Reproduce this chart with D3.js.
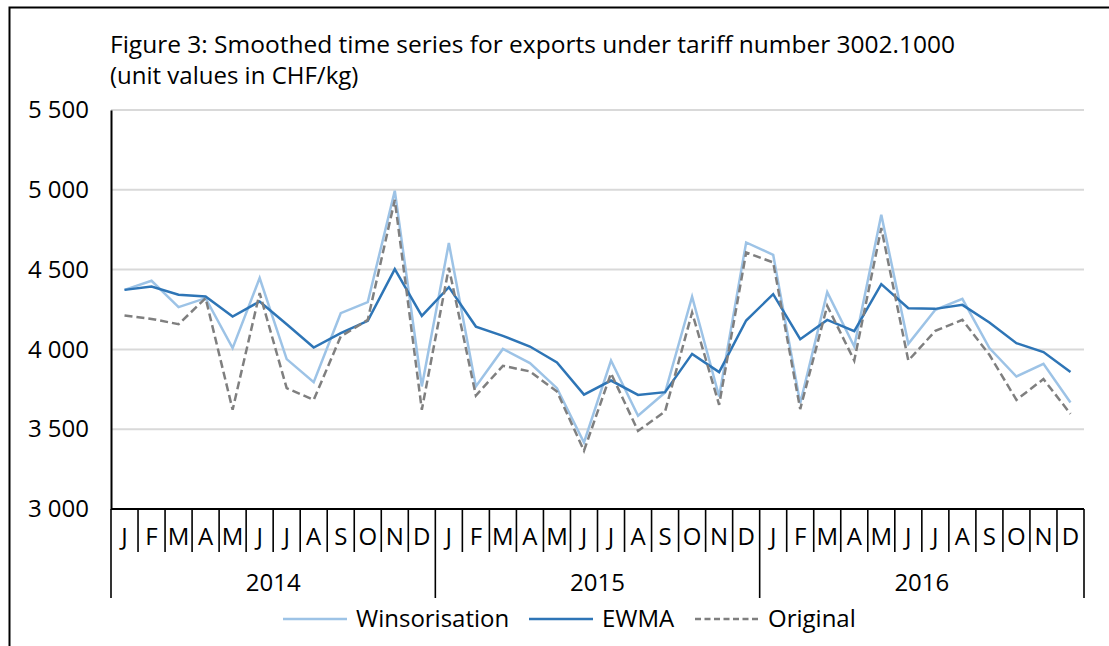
<!DOCTYPE html>
<html>
<head>
<meta charset="utf-8">
<script src="https://cdn.jsdelivr.net/npm/d3@7"></script>
<style>
  body { margin: 0; background: #fff; }
  svg text { font-family: "Open Sans", "Noto Sans", sans-serif; fill: #000; }
</style>
</head>
<body>
<div id="chart"></div>
<script>
var years = ['2014', '2015', '2016'];
var monthLetters = ['J', 'F', 'M', 'A', 'M', 'J', 'J', 'A', 'S', 'O', 'N', 'D'];
var yTicks = [3000, 3500, 4000, 4500, 5000, 5500];

var winsorisation = [4373, 4430, 4265, 4321, 4008, 4447, 3939, 3795, 4227, 4296, 4994, 3768,
                     4666, 3768, 4003, 3914, 3757, 3417, 3930, 3584, 3730, 4331, 3705, 4670,
                     4593, 3663, 4359, 4018, 4843, 4035, 4248, 4317, 4008, 3830, 3910, 3667];
var ewma = [4373, 4394, 4342, 4331, 4206, 4300, 4158, 4012, 4102, 4179, 4503, 4210,
            4390, 4143, 4085, 4018, 3918, 3717, 3805, 3715, 3732, 3972, 3858, 4181,
            4346, 4064, 4185, 4114, 4409, 4258, 4254, 4279, 4169, 4039, 3983, 3858];
var original = [4212, 4191, 4158, 4321, 3622, 4353, 3757, 3684, 4081, 4185, 4937, 3622,
                4512, 3711, 3897, 3862, 3736, 3365, 3850, 3489, 3611, 4231, 3653, 4607,
                4545, 3626, 4273, 3930, 4760, 3930, 4116, 4185, 3966, 3684, 3814, 3596];

var seriesInfo = [
  { name: 'Winsorisation', values: winsorisation, colour: '#9dc3e6', dash: null },
  { name: 'EWMA', values: ewma, colour: '#2e75b6', dash: null },
  { name: 'Original', values: original, colour: '#7f7f7f', dash: '8,4' }
];

var width = 1109, height = 646;
var plotLeft = 111, plotRight = 1084, plotTop = 110, plotBottom = 509;
var fontSize = 24;

var svg = d3.select('#chart').append('svg')
  .attr('width', width)
  .attr('height', height);

// outer frame (top and left edges)
svg.append('path')
  .attr('d', 'M9.5,' + height + 'V7.5H' + width)
  .attr('fill', 'none')
  .attr('stroke', '#000')
  .attr('stroke-width', 2);

svg.append('text')
  .attr('x', 110).attr('y', 53)
  .attr('font-size', 24.5)
  .attr('font-weight', 500)
  .text('Figure 3: Smoothed time series for exports under tariff number 3002.1000');

svg.append('text')
  .attr('x', 110).attr('y', 84)
  .attr('font-size', fontSize)
  .text('(unit values in CHF/kg)');

var months = [];
years.forEach(function(yr) {
  monthLetters.forEach(function(m, i) {
    months.push({ key: yr + '-' + i, letter: m, year: yr });
  });
});

var x = d3.scaleBand()
  .domain(months.map(function(d) { return d.key; }))
  .range([plotLeft, plotRight]);

var y = d3.scaleLinear()
  .domain([3000, 5500])
  .range([plotBottom, plotTop]);

var fmt = function(v) { return d3.format(',')(v).replace(',', ' '); };

// gridlines
svg.append('g')
  .selectAll('line')
  .data(yTicks.slice(1))
  .enter().append('line')
  .attr('x1', plotLeft).attr('x2', plotRight)
  .attr('y1', function(d) { return y(d); })
  .attr('y2', function(d) { return y(d); })
  .attr('stroke', '#d9d9d9')
  .attr('stroke-width', 2);

// y axis
var yAxis = svg.append('g')
  .attr('transform', 'translate(' + plotLeft + ',0)')
  .call(d3.axisLeft(y).tickValues(yTicks).tickFormat(fmt).tickSize(0).tickPadding(22));
yAxis.select('.domain').attr('stroke', '#000').attr('stroke-width', 2);
yAxis.selectAll('text')
  .attr('font-size', fontSize)
  .attr('font-family', '"Open Sans", "Noto Sans", sans-serif')
  .attr('fill', '#000');

// lines
var line = d3.line()
  .x(function(d, i) { return x(months[i].key) + x.bandwidth() / 2; })
  .y(function(d) { return y(d); });

seriesInfo.forEach(function(s) {
  svg.append('path')
    .datum(s.values)
    .attr('d', line)
    .attr('fill', 'none')
    .attr('stroke', s.colour)
    .attr('stroke-width', 2.5)
    .attr('stroke-dasharray', s.dash)
    .attr('stroke-linejoin', 'miter');
});

// x axis: baseline, month separators, year separators
svg.append('line')
  .attr('x1', plotLeft).attr('x2', plotRight)
  .attr('y1', plotBottom).attr('y2', plotBottom)
  .attr('stroke', '#000').attr('stroke-width', 2);

var xg = svg.append('g');
months.forEach(function(m, i) {
  var x0 = x(m.key);
  var isYearStart = (i % 12 === 0);
  xg.append('line')
    .attr('x1', x0).attr('x2', x0)
    .attr('y1', plotBottom).attr('y2', isYearStart ? 598 : 552)
    .attr('stroke', '#000').attr('stroke-width', 1.6);
  xg.append('text')
    .attr('x', x0 + x.bandwidth() / 2)
    .attr('y', 545)
    .attr('text-anchor', 'middle')
    .attr('font-size', fontSize)
    .text(m.letter);
});
xg.append('line')
  .attr('x1', plotRight).attr('x2', plotRight)
  .attr('y1', plotBottom).attr('y2', 598)
  .attr('stroke', '#000').attr('stroke-width', 1.6);

years.forEach(function(yr) {
  var x0 = x(yr + '-0');
  var x1 = x(yr + '-11') + x.bandwidth();
  xg.append('text')
    .attr('x', (x0 + x1) / 2)
    .attr('y', 591)
    .attr('text-anchor', 'middle')
    .attr('font-size', fontSize)
    .text(yr);
});

// legend
var legendX = [283, 529, 695];
seriesInfo.forEach(function(s, i) {
  var g = svg.append('g').attr('transform', 'translate(' + legendX[i] + ',619)');
  g.append('line')
    .attr('x1', 0).attr('x2', 64)
    .attr('stroke', s.colour)
    .attr('stroke-width', 2.5)
    .attr('stroke-dasharray', s.dash ? '6,3.5' : null);
  g.append('text')
    .attr('x', 73).attr('y', 8)
    .attr('font-size', fontSize)
    .text(s.name);
});
</script>
</body>
</html>
